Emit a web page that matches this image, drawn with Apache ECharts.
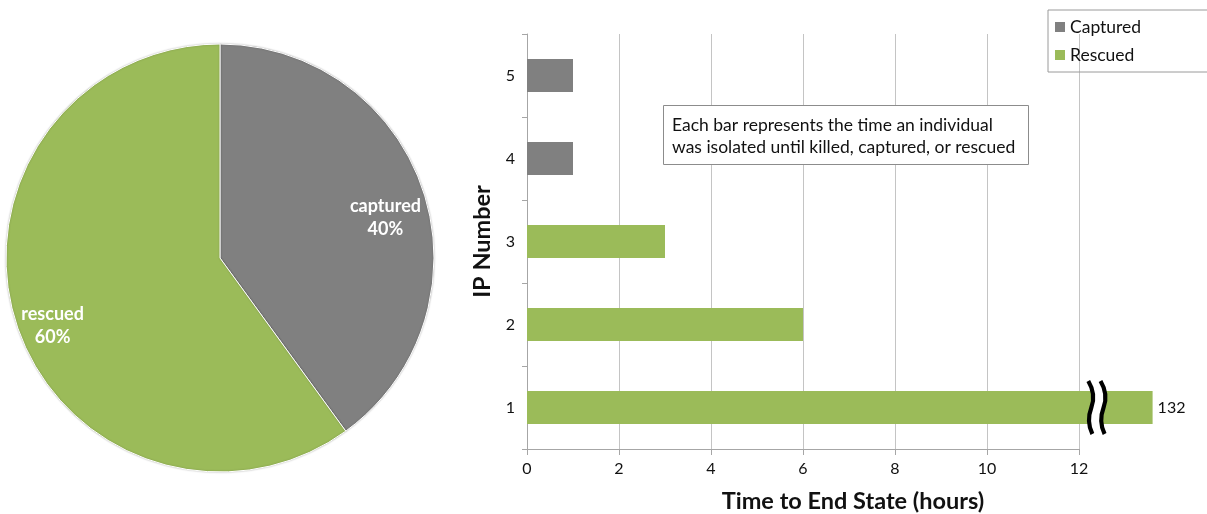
<!DOCTYPE html>
<html><head><meta charset="utf-8">
<script src="https://cdn.jsdelivr.net/npm/echarts@6/dist/echarts.min.js"></script>
<style>html,body{margin:0;padding:0;background:#fff}#c{width:1207px;height:514px}</style>
</head><body><div id="c"></div>
<script>
// ---- data ----
const pieNames = ['captured', 'rescued'];
const pieValues = [40, 60];

const ipNumbers = ['1', '2', '3', '4', '5'];
const hoursToEndState = [132, 6, 3, 1, 1];
const endState = ['Rescued', 'Rescued', 'Rescued', 'Captured', 'Captured'];
const legendNames = ['Captured', 'Rescued'];
const xTicks = [0, 2, 4, 6, 8, 10, 12];
const annotation = 'Each bar represents the time an individual\nwas isolated until killed, captured, or rescued';

// axis break: values beyond the axis are drawn as a broken bar
const axisMax = 12;
const brokenBarLength = 13.6;
const breakMarkAt = 12.39;

const FONT = 'Lato, "Open Sans", sans-serif';
const colors = { Captured: '#808080', Rescued: '#9bbb59' };

function seriesData(state) {
  return hoursToEndState.map((v, i) => {
    if (endState[i] !== state) return '-';
    if (v > axisMax) {
      return { value: brokenBarLength, label: { show: true, formatter: String(v) } };
    }
    return v;
  });
}

const breakFill = 'M2,0 C8,10 8,18 5,26 C2,34 2,44 6,52 L18,52 C14,44 14,34 17,26 C20,18 20,10 14,0 Z';
const breakStroke = 'M2,0 C8,10 8,18 5,26 C2,34 2,44 6,52 M18,52 C14,44 14,34 17,26 C20,18 20,10 14,0';
const brokenIndex = hoursToEndState.findIndex(v => v > axisMax);
const breakData = brokenIndex >= 0 ? [[breakMarkAt, brokenIndex]] : [];

const chart = echarts.init(document.getElementById('c'), null, { renderer: 'canvas' });
chart.setOption({
  animation: false,
  textStyle: { fontFamily: FONT },
  title: [
    {
      text: annotation,
      left: 663, top: 105,
      padding: [10, 14, 7, 9],
      borderColor: '#8c8c8c', borderWidth: 1, backgroundColor: '#fff',
      textStyle: { fontFamily: FONT, fontSize: 17.5, fontWeight: 'normal', color: '#111', lineHeight: 21.5 }
    },
    {
      text: 'Time to End State (hours)',
      left: 848, top: 484, textAlign: 'center',
      textStyle: { fontFamily: FONT, fontSize: 23.5, fontWeight: 'bold', color: '#111' }
    }
  ],
  legend: {
    data: legendNames,
    orient: 'vertical',
    left: 1048, top: 10,
    itemWidth: 10, itemHeight: 10, itemGap: 10,
    padding: [8, 90, 8, 7],
    borderColor: '#9a9a9a', borderWidth: 1,
    icon: 'rect',
    textStyle: { fontFamily: FONT, fontSize: 17.5, color: '#111' }
  },
  grid: { left: 527, right: 1207 - 1079, top: 34, bottom: 514 - 449, containLabel: false },
  xAxis: {
    type: 'value', min: 0, max: axisMax, interval: 2,
    axisLine: { show: true, lineStyle: { color: '#a6a6a6', width: 1 } },
    axisTick: { show: true, length: 6, lineStyle: { color: '#a6a6a6' } },
    axisLabel: { fontSize: 16, color: '#111', margin: 12,
      formatter: v => (xTicks.includes(v) ? String(v) : '') },
    splitLine: { show: true, lineStyle: { color: '#c4c4c4', width: 1 } }
  },
  yAxis: {
    type: 'category', data: ipNumbers,
    name: 'IP Number', nameLocation: 'middle', nameGap: 33,
    nameTextStyle: { fontFamily: FONT, fontSize: 23.5, fontWeight: 'bold', color: '#111' },
    axisLine: { show: true, lineStyle: { color: '#a6a6a6', width: 1 } },
    axisTick: { show: true, length: 5, lineStyle: { color: '#a6a6a6' } },
    axisLabel: { fontSize: 16, color: '#111', margin: 12 }
  },
  series: [
    {
      type: 'pie', name: 'pie', center: [220, 258], radius: 214,
      startAngle: 90, clockwise: true,
      data: pieNames.map((n, i) => ({ name: n, value: pieValues[i],
        itemStyle: { color: i === 0 ? colors.Captured : colors.Rescued } })),
      itemStyle: { borderColor: '#fff', borderWidth: 1, shadowColor: 'rgba(0,0,0,0.25)', shadowBlur: 2 },
      label: { show: false }, labelLine: { show: false }, silent: true
    },
    {
      type: 'pie', name: 'pieLabels', center: [220, 258], radius: [130, 214],
      startAngle: 90, clockwise: true, silent: true,
      data: pieNames.map((n, i) => ({ name: n, value: pieValues[i] })),
      itemStyle: { color: 'transparent' },
      label: { show: true, position: 'inner', formatter: p => p.name + '\n' + p.value + '%',
        offset: [-1, 14],
        color: '#fff', fontFamily: FONT, fontSize: 18, fontWeight: 'bold', lineHeight: 23 },
      labelLine: { show: false }
    },
    {
      type: 'bar', name: 'Captured', data: seriesData('Captured'),
      barWidth: 33, barGap: '-100%', clip: false,
      itemStyle: { color: colors.Captured }
    },
    {
      type: 'bar', name: 'Rescued', data: seriesData('Rescued'),
      barWidth: 33, barGap: '-100%', clip: false,
      itemStyle: { color: colors.Rescued },
      label: { show: false, position: 'right', distance: 5, fontSize: 16, color: '#111', fontFamily: FONT }
    },
    {
      type: 'custom', name: 'break', data: breakData, clip: false, silent: true, z: 10,
      encode: { x: 0, y: 1 },
      renderItem: (params, api) => {
        const p = api.coord([api.value(0), api.value(1)]);
        const w = 21, h = 53;
        return {
          type: 'group',
          children: [
            { type: 'path', shape: { pathData: breakFill, x: p[0] - w / 2, y: p[1] - h / 2, width: w, height: h },
              style: { fill: '#fff', stroke: null } },
            { type: 'path', shape: { pathData: breakStroke, x: p[0] - w / 2, y: p[1] - h / 2, width: w, height: h },
              style: { fill: null, stroke: '#000', lineWidth: 4.2 } }
          ]
        };
      }
    }
  ]
});
</script>
</body></html>
